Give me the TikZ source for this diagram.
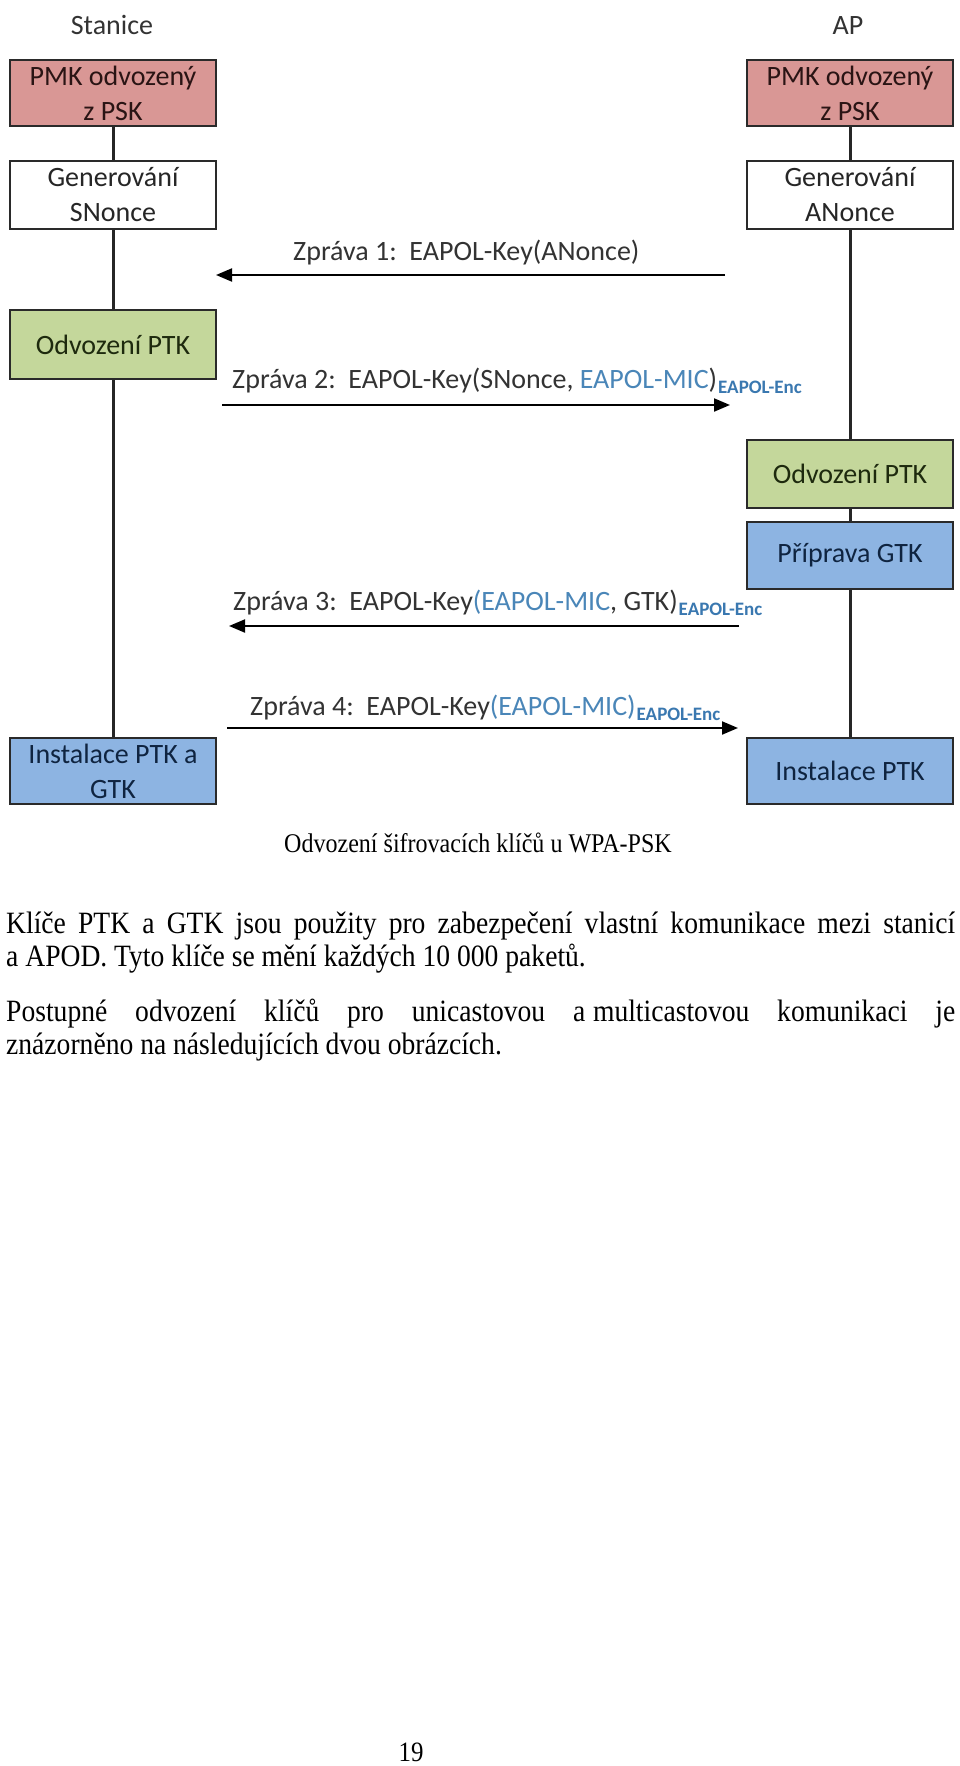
\documentclass[tikz,border=0pt]{standalone}
\usepackage{fontspec}
\usetikzlibrary{arrows.meta}
\newfontfamily\diagfont{Carlito}
\newfontfamily\docfont[FakeStretch=0.89]{Liberation Serif}
\definecolor{boxline}{HTML}{2A2A2A}
\definecolor{lifeline}{HTML}{262626}
\definecolor{pmkfill}{HTML}{D99795}
\definecolor{ptkfill}{HTML}{C4D79B}
\definecolor{gtkfill}{HTML}{8DB4E2}
\definecolor{mic}{HTML}{4A86B8}
\definecolor{enc}{HTML}{3A78B0}
\definecolor{lbltext}{HTML}{333333}
\definecolor{pmktext}{HTML}{2A1414}
\definecolor{ptktext}{HTML}{1E2A0E}
\definecolor{gtktext}{HTML}{0F2440}
\newcommand{\encsub}{\hspace{1pt}\raisebox{-5pt}{\fontsize{19}{19}\selectfont\bfseries\color{enc}EAPOL-Enc}}
\begin{document}
\begin{tikzpicture}[x=1pt,y=-1pt,
  stagebox/.style={draw=boxline, line width=2pt, minimum width=206pt, inner sep=0pt,
    align=center, anchor=north west, font=\diagfont\fontsize{28}{35}\selectfont},
  life/.style={draw=lifeline, line width=3pt},
  msg/.style={draw=black, line width=2pt, -{Triangle[length=16pt,width=13pt]}},
  lbl/.style={anchor=base west, inner sep=0pt, text=lbltext, font=\diagfont\fontsize{28}{34}\selectfont},
  head/.style={anchor=base, inner sep=0pt, text=lbltext, font=\diagfont\fontsize{28}{34}\selectfont}
]
\useasboundingbox[fill=white] (0,0) rectangle (960,1766);

% headers
\node[head] (hS) at (112,35) {Stanice};
\node[head] (hA) at (848,35) {AP};

% Stanice column
\node[stagebox, fill=pmkfill, text=pmktext, minimum height=66pt] (pmkS) at (9,59) {PMK odvozený\\z PSK};
\node[stagebox, fill=white, text=black!85, minimum height=68pt] (genS) at (9,160) {Generování\\SNonce};
\node[stagebox, fill=ptkfill, text=ptktext, minimum height=69pt] (odvS) at (9,309) {Odvození PTK};
\node[stagebox, fill=gtkfill, text=gtktext, minimum height=66pt] (instS) at (9,737) {Instalace PTK a\\GTK};

% AP column
\node[stagebox, fill=pmkfill, text=pmktext, minimum height=66pt] (pmkA) at (746,59) {PMK odvozený\\z PSK};
\node[stagebox, fill=white, text=black!85, minimum height=68pt] (genA) at (746,160) {Generování\\ANonce};
\node[stagebox, fill=ptkfill, text=ptktext, minimum height=68pt] (odvA) at (746,439) {Odvození PTK};
\node[stagebox, fill=gtkfill, text=gtktext, minimum height=67pt] (pripA) at (746,521) {Příprava GTK};
\node[stagebox, fill=gtkfill, text=gtktext, minimum height=66pt] (instA) at (746,737) {Instalace PTK};

% lifelines
\draw[life] (pmkS.south) -- (genS.north);
\draw[life] (genS.south) -- (odvS.north);
\draw[life] (odvS.south) -- (instS.north);
\draw[life] (pmkA.south) -- (genA.north);
\draw[life] (genA.south) -- (odvA.north);
\draw[life] (odvA.south) -- (pripA.north);
\draw[life] (pripA.south) -- (instA.north);

% messages
\coordinate (m1a) at (725,275); \coordinate (m1b) at (216,275);
\coordinate (m2a) at (222,405); \coordinate (m2b) at (730,405);
\coordinate (m3a) at (739,626); \coordinate (m3b) at (229,626);
\coordinate (m4a) at (227,728); \coordinate (m4b) at (738,728);
\draw[msg] (m1a) -- (m1b);
\draw[msg] (m2a) -- (m2b);
\draw[msg] (m3a) -- (m3b);
\draw[msg] (m4a) -- (m4b);

\node[lbl] (l1) at (293,260) {Zpráva 1:\ \ EAPOL-Key(ANonce)};
\node[lbl] (l2) at (232,388) {Zpráva 2:\ \ EAPOL-Key(SNonce, \textcolor{mic}{EAPOL-MIC})\encsub};
\node[lbl] (l3) at (233,610) {Zpráva 3:\ \ EAPOL-Key\textcolor{mic}{(EAPOL-MIC}, GTK)\encsub};
\node[lbl] (l4) at (250,715) {Zpráva 4:\ \ EAPOL-Key\textcolor{mic}{(EAPOL-MIC)}\encsub};

% caption and text
\node[anchor=base, inner sep=0pt, font=\docfont\fontsize{27}{30}\selectfont] (cap) at (478,852) {Odvození šifrovacích klíčů u WPA-PSK};

\node[anchor=base west, inner sep=0pt] (p1) at (6,933) {\parbox[t]{949pt}{\docfont\fontsize{31}{33}\selectfont\parindent=0pt
Klíče PTK a GTK jsou použity pro zabezpečení vlastní komunikace mezi stanicí\linebreak a APOD. Tyto klíče se mění každých 10~000 paketů.}};

\node[anchor=base west, inner sep=0pt] (p2) at (6,1021) {\parbox[t]{949pt}{\docfont\fontsize{31}{33}\selectfont\parindent=0pt
Postupné odvození klíčů pro unicastovou a\hspace{0.25em}multicastovou komunikaci je\linebreak znázorněno na následujících dvou obrázcích.}};

\node[anchor=base, inner sep=0pt, font=\docfont\fontsize{28}{30}\selectfont] (pg) at (411,1761) {19};
\end{tikzpicture}
\end{document}
